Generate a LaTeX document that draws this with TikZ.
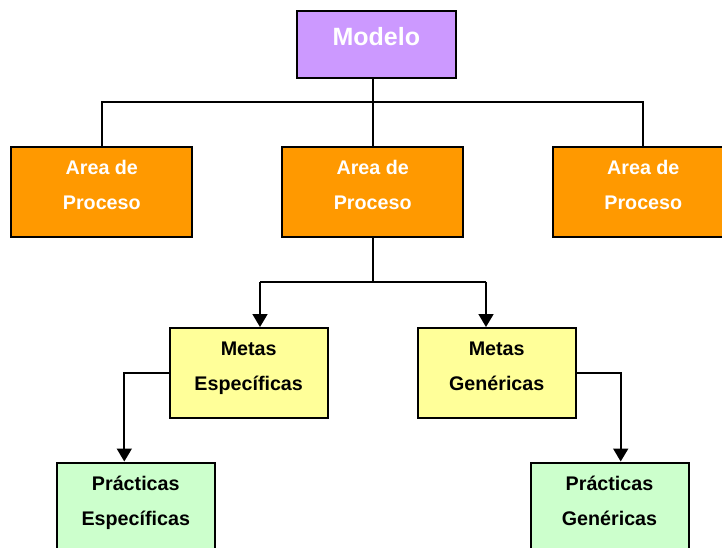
\documentclass[tikz,border=0pt]{standalone}
\usepackage{fontspec}
\setmainfont{Liberation Sans}
\usetikzlibrary{arrows.meta}

\definecolor{modelofill}{HTML}{CC99FF}
\definecolor{areafill}{HTML}{FF9900}
\definecolor{metasfill}{HTML}{FFFF99}
\definecolor{practfill}{HTML}{CCFFCC}

% two lines of text, even room above and below
\newcommand{\twolines}[2]{\rule{0pt}{20pt}#1\\#2\rule[-20pt]{0pt}{20pt}}

\tikzset{
  box/.style={draw, line width=2pt, align=center, inner sep=0pt,
    font=\bfseries\fontsize{19.7}{35}\selectfont, minimum height=90pt},
  areabox/.style={box, fill=areafill, text=white, minimum width=181pt},
  metabox/.style={box, fill=metasfill, minimum width=158pt},
  practbox/.style={box, fill=practfill, minimum width=158pt},
  link/.style={line width=1.8pt},
  arr/.style={link, -{Triangle[length=13pt,width=15pt]}}
}

\begin{document}
\begin{tikzpicture}[x=1pt, y=-1pt]
    \useasboundingbox (0,0) rectangle (722,548);

    % Define boxes
    \node[box, fill=modelofill, text=white, minimum width=158.5pt, minimum height=67pt,
          font=\bfseries\fontsize{25}{30}\selectfont, text height=18pt, text depth=16pt]
          (modelo) at (376.3,45) {Modelo};
    \node[areabox] (ap1) at (101.8,192) {\twolines{Area de}{Proceso}};
    \node[areabox] (ap2) at (372.7,192) {\twolines{Area de}{Proceso}};
    \node[areabox] (ap3) at (643.3,192) {\twolines{Area de}{Proceso}};
    \node[metabox] (me) at (248.7,373) {\twolines{Metas}{Específicas}};
    \node[metabox] (mg) at (496.7,373) {\twolines{Metas}{Genéricas}};
    \node[practbox] (pe) at (135.8,507.5) {\twolines{Prácticas}{Específicas}};
    \node[practbox] (pg) at (609.5,507.5) {\twolines{Prácticas}{Genéricas}};

    % Junction points
    \coordinate (bus) at (372.7,101.7);
    \coordinate (ja) at (260,281.7);
    \coordinate (jb) at (486,281.7);

    % Draw edges
    \draw[link] (modelo.south -| ap2) -- (ap2.north);
    \draw[link] (ap1.north) -- (ap1.north |- bus) -- (ap3.north |- bus) -- (ap3.north);
    \draw[link] (ap2.south) -- (ap2.south |- ja);
    \draw[link] (ja) -- (jb);
    \draw[arr] (ja) -- (ja |- me.north);
    \draw[arr] (jb) -- (jb |- mg.north);
    \draw[arr] (me.west) -| ([xshift=-11.5pt]pe.north);
    \draw[arr] (mg.east) -| ([xshift=11.2pt]pg.north);
\end{tikzpicture}
\end{document}
